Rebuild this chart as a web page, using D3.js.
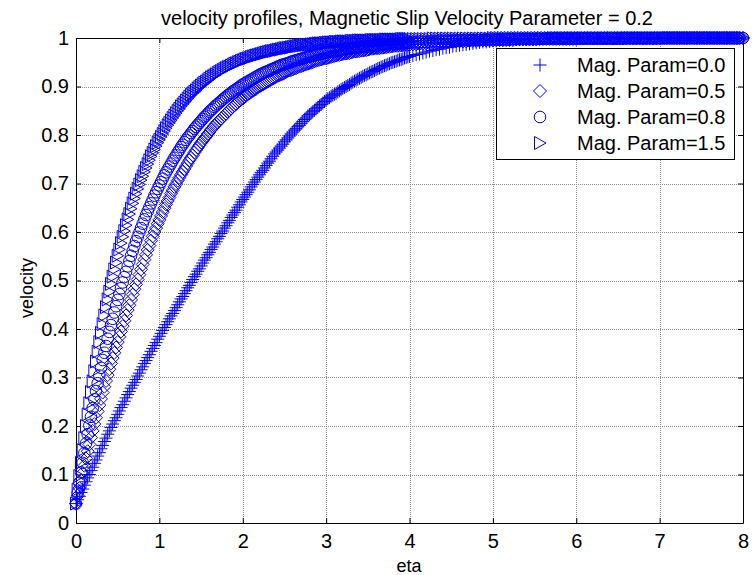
<!DOCTYPE html>
<html><head><meta charset="utf-8">
<script src="https://cdn.jsdelivr.net/npm/d3@7"></script>
<style>
body{margin:0;background:#fff}
svg{display:block}
text{font-family:"Liberation Sans",Arial,Helvetica,sans-serif;fill:#000}
</style>
</head><body>
<svg id="chart" width="752" height="575"></svg>
<script>
// solver mesh: fine near the wall (0.02) then coarser (0.04)
const eta = [
0,0.02,0.04,0.06,0.08,0.1,0.12,0.14,0.16,0.18,
0.2,0.22,0.24,0.26,0.28,0.3,0.32,0.34,0.36,0.38,
0.4,0.42,0.44,0.46,0.48,0.5,0.52,0.54,0.56,0.58,
0.6,0.62,0.64,0.66,0.68,0.7,0.72,0.74,0.76,0.78,
0.8,0.82,0.84,0.86,0.88,0.9,0.92,0.94,0.96,0.98,
1,1.02,1.04,1.06,1.08,1.1,1.12,1.14,1.16,1.18,
1.2,1.22,1.24,1.26,1.28,1.3,1.32,1.34,1.36,1.38,
1.4,1.42,1.44,1.46,1.48,1.5,1.52,1.54,1.56,1.58,
1.6,1.62,1.64,1.66,1.68,1.7,1.72,1.74,1.76,1.78,
1.8,1.82,1.84,1.86,1.88,1.9,1.92,1.94,1.96,1.98,
2,2.02,2.04,2.06,2.08,2.1,2.12,2.14,2.16,2.18,
2.2,2.22,2.24,2.26,2.28,2.3,2.32,2.34,2.36,2.38,
2.4,2.42,2.44,2.46,2.48,2.5,2.52,2.54,2.56,2.58,
2.6,2.62,2.64,2.66,2.68,2.7,2.72,2.74,2.76,2.78,
2.8,2.82,2.84,2.86,2.88,2.9,2.92,2.94,2.96,2.98,
3,3.02,3.04,3.06,3.08,3.1,3.12,3.14,3.16,3.18,
3.2,3.22,3.24,3.26,3.28,3.3,3.32,3.34,3.36,3.38,
3.4,3.42,3.44,3.46,3.48,3.5,3.52,3.54,3.56,3.58,
3.6,3.62,3.64,3.66,3.68,3.7,3.72,3.74,3.76,3.78,
3.8,3.82,3.84,3.86,3.88,3.9,3.92,3.94,3.96,3.98,
4,4.04,4.08,4.12,4.16,4.2,4.24,4.28,4.32,4.36,
4.4,4.44,4.48,4.52,4.56,4.6,4.64,4.68,4.72,4.76,
4.8,4.84,4.88,4.92,4.96,5,5.04,5.08,5.12,5.16,
5.2,5.24,5.28,5.32,5.36,5.4,5.44,5.48,5.52,5.56,
5.6,5.64,5.68,5.72,5.76,5.8,5.84,5.88,5.92,5.96,
6,6.04,6.08,6.12,6.16,6.2,6.24,6.28,6.32,6.36,
6.4,6.44,6.48,6.52,6.56,6.6,6.64,6.68,6.72,6.76,
6.8,6.84,6.88,6.92,6.96,7,7.04,7.08,7.12,7.16,
7.2,7.24,7.28,7.32,7.36,7.4,7.44,7.48,7.52,7.56,
7.6,7.64,7.68,7.72,7.76,7.8,7.84,7.88,7.92,7.96,
8];

// Mag. Param = 0.0  (plus markers)
const magParam00 = [
.040,.048,.055,.063,.070,.078,.085,.093,.100,.108,
.115,.123,.130,.138,.145,.153,.160,.168,.175,.183,
.190,.197,.204,.211,.217,.224,.231,.238,.244,.251,
.258,.265,.271,.278,.284,.290,.296,.303,.309,.316,
.322,.329,.335,.341,.347,.354,.360,.366,.372,.379,
.385,.391,.397,.403,.409,.415,.421,.427,.432,.438,
.444,.450,.456,.462,.467,.473,.479,.485,.490,.496,
.502,.508,.513,.519,.524,.530,.536,.542,.547,.553,
.558,.564,.569,.575,.580,.586,.591,.597,.602,.608,
.613,.619,.624,.630,.635,.640,.645,.651,.656,.662,
.667,.672,.677,.682,.687,.693,.698,.703,.708,.713,
.718,.723,.727,.732,.737,.742,.746,.751,.756,.761,
.765,.769,.773,.777,.781,.786,.790,.794,.798,.802,
.806,.810,.813,.817,.820,.824,.828,.832,.835,.839,
.842,.845,.848,.851,.854,.857,.860,.863,.866,.869,
.872,.875,.877,.880,.882,.884,.886,.889,.891,.894,
.896,.898,.900,.902,.904,.907,.909,.911,.913,.915,
.917,.919,.921,.923,.924,.926,.928,.930,.931,.933,
.935,.937,.938,.940,.941,.943,.944,.946,.947,.949,
.950,.951,.952,.954,.955,.956,.957,.959,.960,.961,
.962,.964,.966,.967,.969,.971,.973,.974,.976,.977,
.979,.980,.981,.983,.984,.985,.986,.987,.988,.989,
.990,.991,.992,.992,.993,.994,.994,.995,.995,.996,
.996,.996,.997,.997,.998,.998,.998,.998,.999,.999,
.999,.999,1,1,1,1,1,1,1,1,
1,1,1,1,1,1,1,1,1,1,
1,1,1,1,1,1,1,1,1,1,
1,1,1,1,1,1,1,1,1,1,
1,1,1,1,1,1,1,1,1,1,
1,1,1,1,1,1,1,1,1,1,
1];

// Mag. Param = 0.5  (diamond markers)
const magParam05 = [
.040,.056,.072,.088,.103,.118,.133,.148,.162,.176,
.190,.204,.217,.230,.243,.256,.269,.281,.293,.305,
.317,.329,.340,.351,.362,.373,.384,.395,.406,.417,
.428,.439,.449,.460,.471,.482,.492,.502,.512,.523,
.533,.543,.553,.563,.572,.582,.591,.600,.608,.617,
.625,.633,.641,.649,.657,.664,.671,.679,.686,.693,
.699,.706,.712,.718,.724,.730,.736,.742,.748,.753,
.758,.764,.769,.774,.779,.784,.788,.793,.797,.802,
.806,.811,.815,.819,.823,.827,.830,.834,.837,.841,
.844,.848,.851,.855,.858,.861,.864,.867,.870,.873,
.875,.878,.881,.884,.886,.889,.891,.893,.895,.898,
.900,.902,.904,.906,.908,.910,.912,.914,.916,.918,
.920,.922,.923,.925,.926,.928,.930,.932,.933,.934,
.935,.937,.938,.940,.941,.942,.943,.945,.946,.947,
.948,.949,.950,.952,.953,.954,.955,.956,.957,.958,
.958,.959,.960,.961,.962,.963,.964,.965,.965,.966,
.967,.968,.968,.969,.969,.970,.971,.972,.972,.973,
.973,.974,.974,.975,.975,.976,.977,.978,.978,.979,
.979,.979,.979,.980,.980,.981,.981,.982,.982,.983,
.983,.984,.984,.984,.984,.985,.985,.986,.986,.986,
.986,.987,.987,.988,.988,.989,.989,.990,.990,.991,
.991,.991,.992,.992,.993,.993,.993,.993,.994,.994,
.994,.995,.995,.995,.995,.995,.996,.996,.996,.996,
.996,.996,.997,.997,.997,.997,.997,.997,.997,.998,
.998,.998,.998,.998,.998,.998,.998,.998,.998,.998,
.998,.999,.999,.999,.999,.999,.999,.999,.999,.999,
.999,.999,.999,.999,.999,.999,.999,.999,.999,.999,
.999,.999,.999,.999,.999,.999,1,1,1,1,
1,1,1,1,1,1,1,1,1,1,
1,1,1,1,1,1,1,1,1,1,
1];

// Mag. Param = 0.8  (circle markers)
const magParam08 = [
.040,.062,.083,.104,.124,.144,.164,.183,.201,.219,
.237,.255,.272,.288,.304,.320,.336,.351,.365,.380,
.394,.408,.421,.434,.447,.460,.472,.484,.496,.507,
.518,.529,.540,.551,.561,.571,.581,.590,.599,.608,
.617,.626,.635,.643,.651,.659,.667,.675,.682,.689,
.696,.703,.710,.717,.723,.729,.735,.741,.747,.753,
.758,.764,.769,.775,.780,.785,.790,.795,.799,.804,
.808,.813,.817,.821,.825,.829,.833,.837,.840,.844,
.848,.851,.854,.858,.861,.864,.867,.870,.873,.876,
.879,.882,.884,.887,.890,.892,.894,.897,.899,.902,
.904,.906,.908,.910,.912,.914,.916,.918,.920,.922,
.924,.926,.927,.929,.930,.932,.933,.935,.936,.938,
.939,.941,.942,.944,.945,.946,.947,.948,.949,.951,
.952,.953,.954,.955,.956,.957,.958,.959,.960,.961,
.962,.963,.963,.964,.965,.966,.967,.968,.968,.969,
.970,.971,.971,.972,.972,.973,.973,.974,.975,.976,
.976,.977,.977,.978,.978,.979,.979,.980,.980,.981,
.981,.982,.982,.982,.982,.983,.983,.984,.984,.985,
.985,.985,.985,.986,.986,.987,.987,.987,.987,.988,
.988,.988,.988,.989,.989,.989,.989,.990,.990,.990,
.990,.991,.991,.992,.992,.992,.993,.993,.993,.994,
.994,.994,.994,.995,.995,.995,.995,.996,.996,.996,
.996,.996,.996,.997,.997,.997,.997,.997,.997,.997,
.998,.998,.998,.998,.998,.998,.998,.998,.998,.998,
.998,.999,.999,.999,.999,.999,.999,.999,.999,.999,
.999,.999,.999,.999,.999,.999,.999,.999,.999,.999,
.999,.999,.999,.999,1,1,1,1,1,1,
1,1,1,1,1,1,1,1,1,1,
1,1,1,1,1,1,1,1,1,1,
1,1,1,1,1,1,1,1,1,1,
1];

// Mag. Param = 1.5  (right-triangle markers)
const magParam15 = [
.040,.069,.097,.124,.150,.175,.200,.224,.247,.270,
.292,.313,.333,.353,.373,.392,.410,.428,.445,.461,
.477,.493,.508,.523,.537,.551,.564,.577,.590,.602,
.614,.626,.637,.648,.659,.669,.679,.689,.698,.707,
.715,.724,.732,.740,.748,.756,.763,.770,.777,.784,
.790,.796,.802,.808,.814,.820,.825,.830,.835,.840,
.845,.850,.854,.859,.863,.867,.871,.875,.879,.883,
.886,.889,.892,.896,.899,.902,.905,.908,.910,.913,
.916,.919,.921,.923,.925,.928,.930,.932,.934,.936,
.938,.940,.941,.943,.945,.947,.948,.950,.951,.953,
.954,.956,.957,.958,.959,.961,.962,.963,.964,.965,
.966,.967,.968,.969,.970,.971,.972,.973,.973,.974,
.975,.976,.976,.977,.978,.979,.979,.980,.980,.981,
.982,.983,.983,.984,.984,.985,.985,.986,.986,.986,
.986,.987,.987,.988,.988,.989,.989,.989,.989,.990,
.990,.991,.991,.991,.991,.992,.992,.992,.992,.993,
.993,.993,.993,.993,.993,.994,.994,.994,.994,.995,
.995,.995,.995,.995,.995,.995,.995,.996,.996,.996,
.996,.996,.996,.996,.996,.997,.997,.997,.997,.997,
.997,.997,.997,.997,.997,.998,.998,.998,.998,.998,
.998,.998,.998,.998,.998,.998,.998,.999,.999,.999,
.999,.999,.999,.999,.999,.999,.999,.999,.999,.999,
.999,.999,.999,.999,.999,1,1,1,1,1,
1,1,1,1,1,1,1,1,1,1,
1,1,1,1,1,1,1,1,1,1,
1,1,1,1,1,1,1,1,1,1,
1,1,1,1,1,1,1,1,1,1,
1,1,1,1,1,1,1,1,1,1,
1,1,1,1,1,1,1,1,1,1,
1,1,1,1,1,1,1,1,1,1,
1];

const seriesLabels = ["Mag. Param=0.0","Mag. Param=0.5","Mag. Param=0.8","Mag. Param=1.5"];
const seriesMarkers = ["plus","diamond","circle","triangle"];
const xTicks = [0,1,2,3,4,5,6,7,8];
const xTickLabels = ["0","1","2","3","4","5","6","7","8"];
const yTicks = [0,0.1,0.2,0.3,0.4,0.5,0.6,0.7,0.8,0.9,1];
const yTickLabels = ["0","0.1","0.2","0.3","0.4","0.5","0.6","0.7","0.8","0.9","1"];
const titleText = "velocity profiles, Magnetic Slip Velocity Parameter = 0.2";
const xLabel = "eta";
const yLabel = "velocity";

const allSeries = [magParam00, magParam05, magParam08, magParam15];

const svg = d3.select("#chart");
const L = 76, R = 743, T = 38, B = 523;
const x = d3.scaleLinear().domain([0, 8]).range([L, R]);
const y = d3.scaleLinear().domain([0, 1]).range([B, T]);
const BLUE = "#0000ff";
const FS = 20;

svg.append("rect").attr("width", 752).attr("height", 575).attr("fill", "#fff");

// grid
const grid = svg.append("g").attr("stroke", "#8c8c8c").attr("stroke-width", 1)
  .attr("stroke-dasharray", "1,1").attr("shape-rendering", "crispEdges");
grid.selectAll("line.gx").data(xTicks).join("line")
  .attr("class", "gx")
  .attr("x1", d => Math.round(x(d)) + 0.5).attr("x2", d => Math.round(x(d)) + 0.5)
  .attr("y1", T).attr("y2", B);
grid.selectAll("line.gy").data(yTicks).join("line")
  .attr("class", "gy")
  .attr("y1", d => Math.round(y(d)) + 0.5).attr("y2", d => Math.round(y(d)) + 0.5)
  .attr("x1", L).attr("x2", R);

// axes
function styleAxis(g) {
  g.attr("font-size", FS).attr("font-family", '"Liberation Sans",Arial,sans-serif');
  g.selectAll("path.domain").attr("stroke", "#000");
  g.selectAll(".tick line").attr("stroke", "#000");
  g.selectAll(".tick text").attr("fill", "#000");
}
svg.append("g").attr("transform", `translate(0,${B})`)
  .call(d3.axisBottom(x).tickValues(xTicks).tickFormat((d, i) => xTickLabels[i])
        .tickSizeInner(-5).tickSizeOuter(0).tickPadding(11))
  .call(styleAxis);
svg.append("g").attr("transform", `translate(0,${T})`)
  .call(d3.axisTop(x).tickValues(xTicks).tickFormat("")
        .tickSizeInner(-5).tickSizeOuter(0))
  .call(styleAxis);
svg.append("g").attr("transform", `translate(${L},0)`)
  .call(d3.axisLeft(y).tickValues(yTicks).tickFormat((d, i) => yTickLabels[i])
        .tickSizeInner(-5).tickSizeOuter(0).tickPadding(7))
  .call(styleAxis);
svg.append("g").attr("transform", `translate(${R},0)`)
  .call(d3.axisRight(y).tickValues(yTicks).tickFormat("")
        .tickSizeInner(-5).tickSizeOuter(0))
  .call(styleAxis);

// markers
function markerPath(type) {
  switch (type) {
    case "plus": return "M-6.5,0H6.5M0,-6.5V6.5";
    case "diamond": return "M0,-6.5L6.5,0L0,6.5L-6.5,0Z";
    case "circle": { const r = 5.8; return `M${r},0A${r},${r} 0 1,1 ${-r},0A${r},${r} 0 1,1 ${r},0Z`; }
    case "triangle": return "M-5.5,-6.5L6,0L-5.5,6.5Z";
  }
}
const plot = svg.append("g");
allSeries.forEach((vals, si) => {
  const n = Math.min(vals.length, eta.length);
  const pts = d3.range(n).map(i => ({e: eta[i], v: vals[i]}));
  plot.append("g").selectAll("path").data(pts).join("path")
    .attr("transform", p => `translate(${x(p.e)},${y(p.v)})`)
    .attr("d", markerPath(seriesMarkers[si]))
    .attr("fill", "none").attr("stroke", BLUE).attr("stroke-width", 1);
});

// legend
const lg = svg.append("g");
lg.append("rect").attr("x", 496.5).attr("y", 48.5).attr("width", 238).attr("height", 111)
  .attr("fill", "#fff").attr("stroke", "#000").attr("stroke-width", 1);
seriesLabels.forEach((lab, i) => {
  const cy = 65 + i * 26;
  lg.append("path").attr("transform", `translate(540,${cy})`)
    .attr("d", markerPath(seriesMarkers[i]))
    .attr("fill", "none").attr("stroke", BLUE).attr("stroke-width", 1);
  lg.append("text").attr("x", 577).attr("y", cy + 7).attr("font-size", FS).text(lab);
});

// title & labels
svg.append("text").attr("x", 407).attr("y", 25).attr("text-anchor", "middle")
  .attr("font-size", FS).text(titleText);
svg.append("text").attr("x", 409).attr("y", 572).attr("text-anchor", "middle")
  .attr("font-size", 18).text(xLabel);
svg.append("text").attr("transform", "translate(33,288) rotate(-90)")
  .attr("text-anchor", "middle").attr("font-size", 18).text(yLabel);
</script>
</body></html>
